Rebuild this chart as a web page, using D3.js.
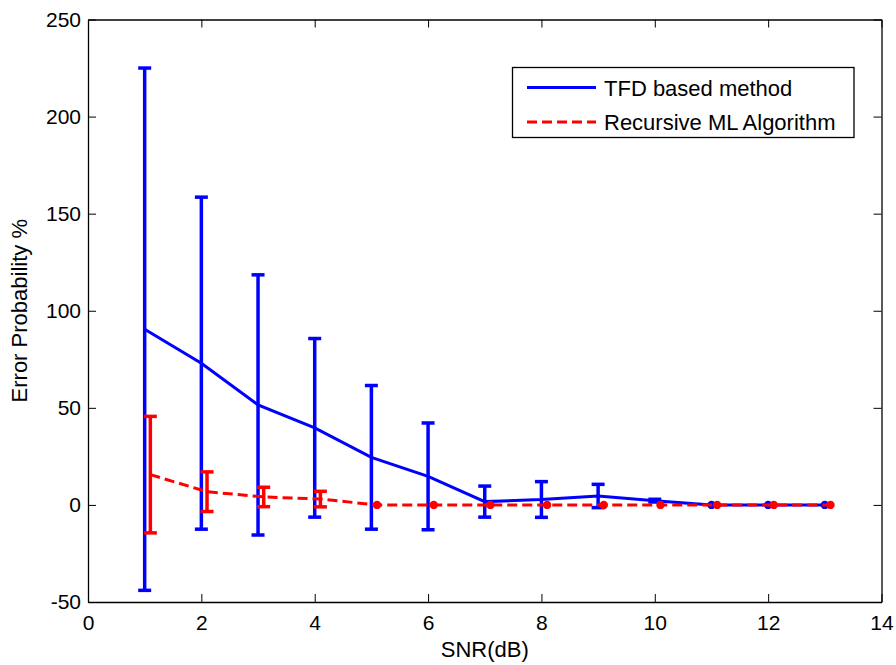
<html>
<head>
<meta charset="utf-8">
<script src="https://d3js.org/d3.v7.min.js"></script>
<style>
    body { margin: 0; background: #fff; }
    text { font-family: "Liberation Sans", Arial, sans-serif; fill: #000; }
</style>
</head>
<body>
</body>
<script>
    // data
    let snr = [1, 2, 3, 4, 5, 6, 7, 8, 9, 10, 11, 12, 13];
    let tfdMean = [90.5, 73, 51.5, 39.7, 24.5, 14.7, 1.7, 2.8, 4.6, 2.2, 0, 0, 0];
    let tfdErr = [134.5, 85.5, 67, 46, 37, 27.5, 8, 9.2, 6, 0.7, 0, 0, 0];
    let rmlSnr = [1.1, 2.1, 3.1, 4.1, 5.1, 6.1, 7.1, 8.1, 9.1, 10.1, 11.1, 12.1, 13.1];
    let rmlMean = [15.6, 6.8, 4.1, 3.0, 0, 0, 0, 0, 0, 0, 0, 0, 0];
    let rmlErr = [30, 10.2, 5, 4, 0, 0, 0, 0, 0, 0, 0, 0, 0];
    let xTicks = [0, 2, 4, 6, 8, 10, 12, 14];
    let yTicks = [-50, 0, 50, 100, 150, 200, 250];

    let width = 896, height = 665;
    let plotLeft = 88, plotTop = 19.5, plotRight = 881.5, plotBottom = 602;

    let svg = d3.select("body").append("svg")
        .attr("width", width)
        .attr("height", height);

    let x = d3.scaleLinear().domain([0, 14]).range([plotLeft, plotRight]);
    let y = d3.scaleLinear().domain([-50, 250]).range([plotBottom, plotTop]);

    // axes box with inward ticks on all four sides
    let tickLen = 8;
    let fmt = d => String(d);
    svg.append("g")
        .attr("transform", "translate(0," + plotBottom + ")")
        .call(d3.axisBottom(x).tickValues(xTicks).tickFormat(fmt).tickSizeInner(-tickLen).tickSizeOuter(0).tickPadding(13))
        .call(g => g.selectAll("text").attr("font-size", 21).attr("font-family", "Liberation Sans, Arial"));
    svg.append("g")
        .attr("transform", "translate(0," + plotTop + ")")
        .call(d3.axisTop(x).tickValues(xTicks).tickSizeInner(-tickLen).tickSizeOuter(0).tickFormat(""));
    svg.append("g")
        .attr("transform", "translate(" + plotLeft + ",0)")
        .call(d3.axisLeft(y).tickValues(yTicks).tickFormat(fmt).tickSizeInner(-tickLen).tickSizeOuter(0).tickPadding(7))
        .call(g => g.selectAll("text").attr("font-size", 21).attr("font-family", "Liberation Sans, Arial"));
    svg.append("g")
        .attr("transform", "translate(" + plotRight + ",0)")
        .call(d3.axisRight(y).tickValues(yTicks).tickSizeInner(-tickLen).tickSizeOuter(0).tickFormat(""));
    svg.selectAll(".domain").attr("stroke", "#000").attr("stroke-width", 1.3);
    svg.selectAll(".tick line").attr("stroke", "#000").attr("stroke-width", 1);

    svg.append("text")
        .attr("x", (plotLeft + plotRight) / 2)
        .attr("y", 657)
        .attr("text-anchor", "middle")
        .attr("font-size", 22)
        .text("SNR(dB)");
    svg.append("text")
        .attr("transform", "translate(27," + (plotTop + plotBottom) / 2 + ") rotate(-90)")
        .attr("text-anchor", "middle")
        .attr("font-size", 22)
        .text("Error Probability %");

    let capW = 6.5;

    function drawSeries(xs, means, errs, color, dash) {
        let pts = xs.map((v, i) => ({x: v, m: means[i], e: errs[i]}));
        let g = svg.append("g");
        // error bars
        pts.filter(d => d.e > 0).forEach(d => {
            let cx = x(d.x);
            g.append("line")
                .attr("x1", cx).attr("x2", cx)
                .attr("y1", y(d.m - d.e)).attr("y2", y(d.m + d.e))
                .attr("stroke", color).attr("stroke-width", 3.5);
            [d.m - d.e, d.m + d.e].forEach(v =>
                g.append("line")
                    .attr("x1", cx - capW).attr("x2", cx + capW)
                    .attr("y1", y(v)).attr("y2", y(v))
                    .attr("stroke", color).attr("stroke-width", 3.5)
            );
        });
        // zero-width bars show up as dots
        pts.filter(d => d.e == 0).forEach(d =>
            g.append("circle")
                .attr("cx", x(d.x)).attr("cy", y(d.m))
                .attr("r", 4.2)
                .attr("fill", color)
        );
        let line = d3.line().x(d => x(d.x)).y(d => y(d.m));
        g.append("path")
            .datum(pts)
            .attr("d", line)
            .attr("fill", "none")
            .attr("stroke", color)
            .attr("stroke-width", 3)
            .attr("stroke-dasharray", dash);
    }

    drawSeries(snr, tfdMean, tfdErr, "#0000ff", null);
    drawSeries(rmlSnr, rmlMean, rmlErr, "#ff0000", "10,5");

    // legend
    let lg = svg.append("g");
    lg.append("rect")
        .attr("x", 512.5).attr("y", 67.5)
        .attr("width", 341.5).attr("height", 70)
        .attr("fill", "#fff").attr("stroke", "#000").attr("stroke-width", 1.3);
    let legendItems = [
        {name: "TFD based method", color: "#0000ff", dash: null},
        {name: "Recursive ML Algorithm", color: "#ff0000", dash: "10,5"}
    ];
    legendItems.forEach((d, i) => {
        let cy = 87.5 + i * 34.5;
        lg.append("line")
            .attr("x1", 527).attr("x2", 596)
            .attr("y1", cy).attr("y2", cy)
            .attr("stroke", d.color).attr("stroke-width", 3)
            .attr("stroke-dasharray", d.dash);
        lg.append("text")
            .attr("x", 604).attr("y", cy + 8)
            .attr("font-size", 22)
            .text(d.name);
    });
</script>
</html>
